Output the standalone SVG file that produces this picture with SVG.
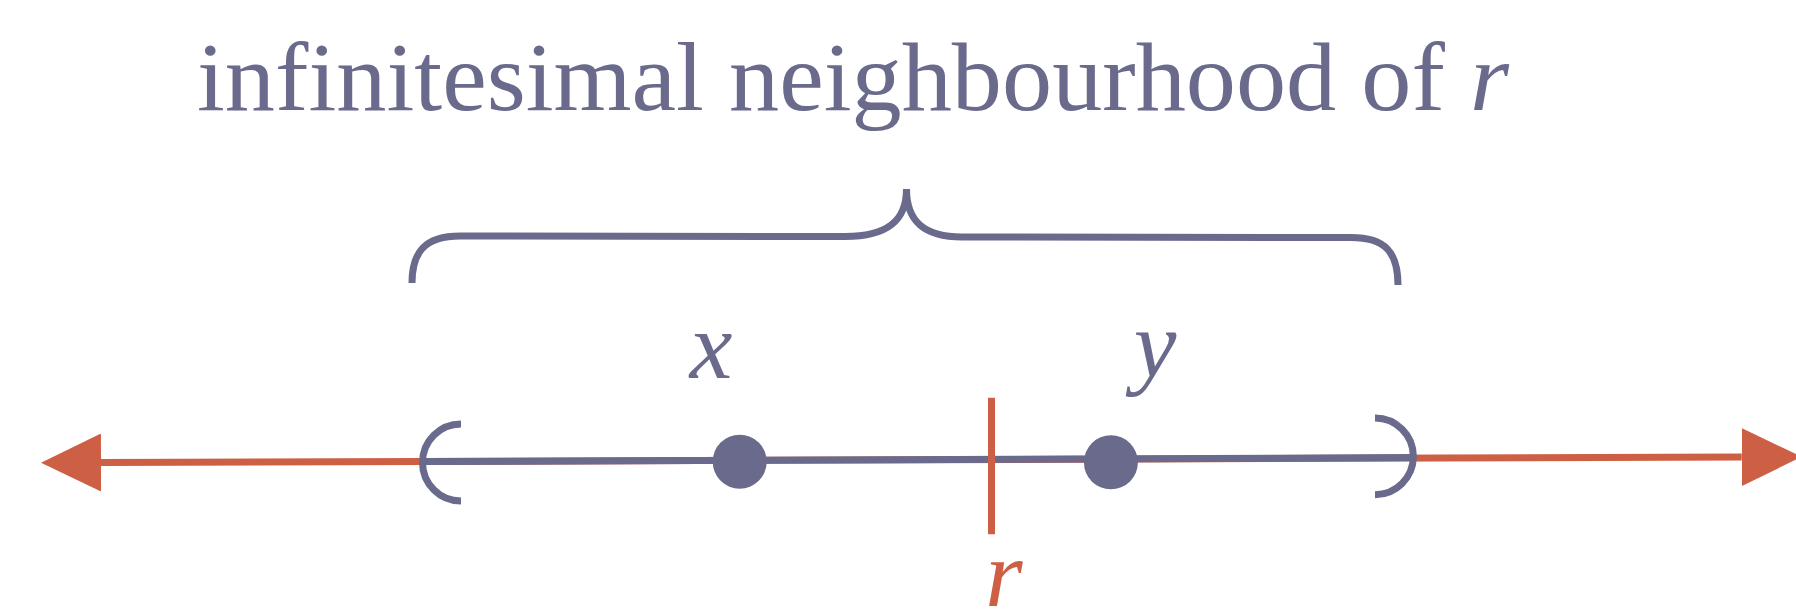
<svg xmlns="http://www.w3.org/2000/svg" width="1796" height="612" viewBox="0 0 1796 612">
<style>
.blue{stroke:#6a6a8c;fill:none;stroke-width:7}
.red{stroke:#cd5f45;fill:none;stroke-width:7}
.dot{fill:#6a6a8c}
.title{font-family:"Liberation Serif",serif;font-size:98px;fill:#6a6a8c}
.lbl{font-family:"Liberation Serif",serif;font-style:italic;font-size:96px;text-anchor:middle}
</style>
<defs>
<marker id="ah" markerUnits="userSpaceOnUse" markerWidth="60" markerHeight="58" viewBox="0 0 60 58" refX="0" refY="29" orient="auto-start-reverse">
<path d="M0,0 L60,29 L0,58 z" fill="#cd5f45"/>
</marker>
</defs>
<rect width="1796" height="612" fill="#ffffff"/>
<g id="title">
<text class="title" x="197" y="110" textLength="1312" lengthAdjust="spacingAndGlyphs">infinitesimal neighbourhood of <tspan font-style="italic">r</tspan></text>
</g>
<g id="brace">
<path class="blue" d="M412,283 C412,252 425,236 460,236 L845,236.5 C886,236.5 906.5,222 906.5,189 C906.5,222 925,237 962,237 L1351,237.5 C1385,237.5 1398,252 1398,285"/>
</g>
<g id="connectors">
<path class="red" d="M101,462.5 L1741.7,457" marker-start="url(#ah)" marker-end="url(#ah)"/>
<path class="blue" d="M422,461.6 L1413,457.6"/>
</g>
<g id="left-bracket">
<path class="blue" d="M461,424 A38.5,38.5 0 0 0 461,501"/>
</g>
<g id="right-bracket">
<path class="blue" d="M1375,418 A38.3,38.3 0 0 1 1375,494.7"/>
</g>
<g id="r">
<line class="red" x1="991.5" y1="397.7" x2="991.5" y2="534.3"/>
<text class="lbl" x="1004" y="606" fill="#cd5f45">r</text>
</g>
<g id="x">
<circle class="dot" cx="739.7" cy="461.7" r="27"/>
<text class="lbl" x="711" y="378" fill="#6a6a8c">x</text>
</g>
<g id="y">
<circle class="dot" cx="1110.9" cy="462.3" r="27"/>
<text class="lbl" x="1155" y="377" fill="#6a6a8c">y</text>
</g>
</svg>
